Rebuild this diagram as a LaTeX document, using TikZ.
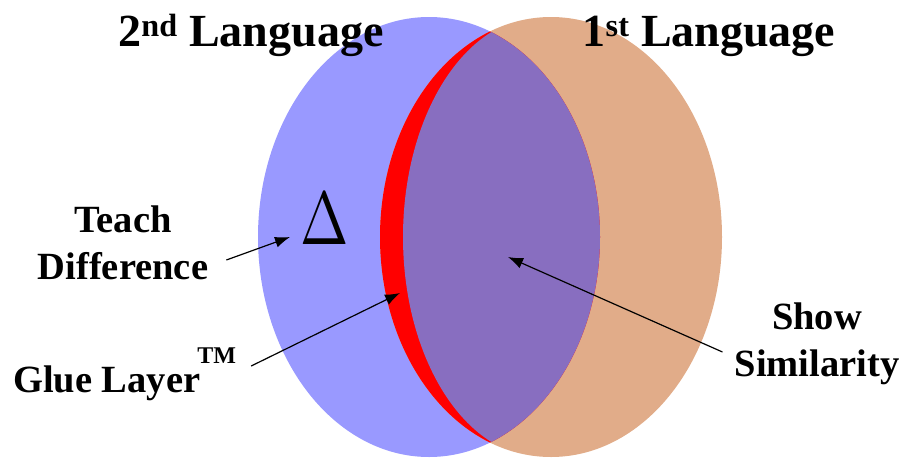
\documentclass[tikz,border=0pt]{standalone}
\usepackage{fontspec}
\setmainfont{Liberation Serif}
\usepackage{xcolor}
\usetikzlibrary{positioning, arrows.meta}

\definecolor{secondlang}{HTML}{9999FF}
\definecolor{firstlang}{HTML}{E1AC89}
\definecolor{overlap}{HTML}{886EC0}
\definecolor{glue}{HTML}{FF0000}

\begin{document}
\begin{tikzpicture}[
    x=1pt, y=-1pt,
    title/.style={font=\fontsize{46}{50}\selectfont\bfseries, inner sep=0pt, anchor=base},
    label/.style={font=\fontsize{38.5}{47}\selectfont\bfseries, align=center, inner sep=0pt},
    pointer/.style={line width=1.2pt, -{Latex[length=15pt, width=11pt]}},
]
\useasboundingbox (0, 0) rectangle (904, 458);

% Language sets
\fill[secondlang] (429, 237) ellipse [x radius=171pt, y radius=220pt];
\fill[firstlang] (551, 237) ellipse [x radius=171pt, y radius=220pt];

% Glue layer and shared part
\begin{scope}
  \clip (429, 237) ellipse [x radius=171pt, y radius=220pt];
  \fill[glue] (551, 237) ellipse [x radius=171pt, y radius=220pt];
  \fill[overlap] (542, 237) ellipse [x radius=139pt, y radius=220pt];
\end{scope}

% Titles
\node[title] (second) at (251, 46) {2\textsuperscript{nd} Language};
\node[title] (first) at (709, 46) {1\textsuperscript{st} Language};

% Delta
\node[inner sep=0pt, anchor=base] (delta) at (325, 244) {\scalebox{5.8}[7.5]{$\Delta$}};

% Labels
\node[label] (teach) at (123, 243) {Teach\\Difference};
\node[label, anchor=base west] (gluelbl) at (13, 392)
  {Glue Layer\kern-3pt\raisebox{29pt}{\fontsize{24}{24}\selectfont TM}};
\node[label] (show) at (817, 344) {Show\\Similarity};

% Arrow tips
\coordinate (deltatip) at (290, 237);
\coordinate (gluetip) at (400, 293);
\coordinate (simtip) at (508, 257);

% Pointers
\draw[pointer] ([xshift=18pt, yshift=-17pt]teach.east) -- (deltatip);
\draw[pointer] ([xshift=15pt, yshift=26pt]gluelbl.base east) -- (gluetip);
\draw[pointer] ([xshift=-12pt, yshift=-8pt]show.west) -- (simtip);

\end{tikzpicture}
\end{document}
